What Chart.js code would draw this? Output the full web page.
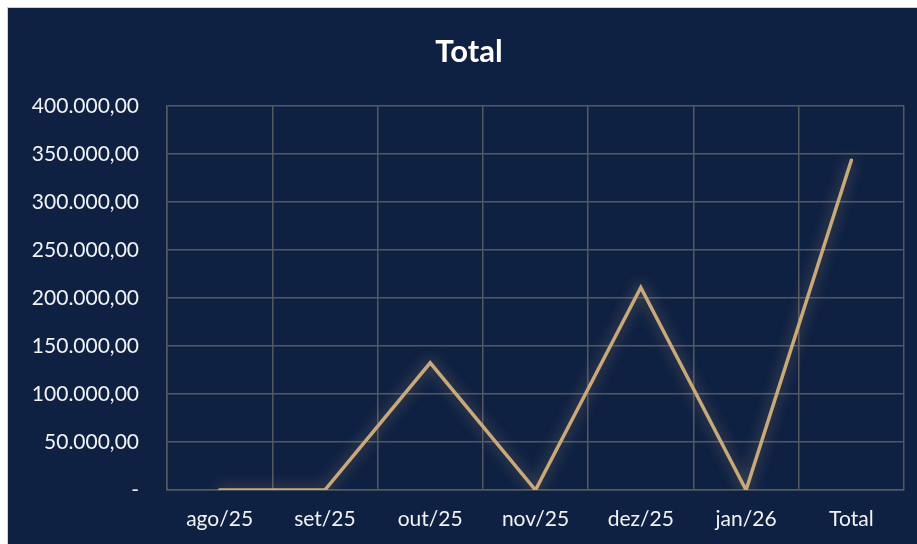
<!DOCTYPE html>
<html>
<head>
<meta charset="utf-8">
<script src="https://cdn.jsdelivr.net/npm/chart.js@4.4.1/dist/chart.umd.min.js"></script>
<style>
  html, body { margin: 0; padding: 0; background: #ffffff; }
  #frame {
    position: absolute; left: 7px; top: 7px;
    width: 910px; height: 537px;
    background: #0f2143;
    border-left: 1px solid #d0d0d0; border-top: 1px solid #d0d0d0;
  }
  #chart { display: block; }
</style>
</head>
<body>
<div id="frame"><canvas id="chart" width="910" height="537"></canvas></div>
<script>
// data
const labels = ["ago/25", "set/25", "out/25", "nov/25", "dez/25", "jan/26", "Total"];
const totals = [0, 0, 132500, 0, 211000, 0, 343500];
const yTicks = [0, 50000, 100000, 150000, 200000, 250000, 300000, 350000, 400000];
const chartTitle = "Total";

// 350000 -> "350.000,00", 0 -> "-"
function fmtBR(v) {
  if (v === 0) return "-";
  const s = Math.round(v).toString().replace(/\B(?=(\d{3})+(?!\d))/g, ".");
  return s + ",00";
}

const fontFamily = "Lato, 'Open Sans', sans-serif";
const font = { family: fontFamily, size: 21 };

// soft glow under the line
const glow = {
  id: "glow",
  beforeDatasetDraw(chart) {
    const ctx = chart.ctx;
    ctx.save();
    ctx.shadowColor = "rgba(201,169,122,0.55)";
    ctx.shadowBlur = 14;
  },
  afterDatasetDraw(chart) {
    chart.ctx.restore();
  },
};

// title sits a bit right of the canvas centre, like the original
const titleText = {
  id: "titleText",
  afterDraw(chart) {
    const ctx = chart.ctx;
    ctx.save();
    ctx.fillStyle = "#ffffff";
    ctx.font = "bold 31px " + fontFamily;
    ctx.textAlign = "center";
    ctx.textBaseline = "middle";
    ctx.fillText(chartTitle, 461, 44);
    ctx.restore();
  },
};

new Chart(document.getElementById("chart"), {
  type: "line",
  data: {
    labels,
    datasets: [{
      label: "Total",
      data: totals,
      borderColor: "#c9a97a",
      borderWidth: 3.5,
      borderCapStyle: "round",
      borderJoinStyle: "miter",
      pointRadius: 0,
      tension: 0,
    }],
  },
  options: {
    responsive: false,
    animation: false,
    layout: { padding: { left: 0, right: 14, top: 98, bottom: 0 } },
    plugins: {
      legend: { display: false },
      tooltip: { enabled: false },
      title: { display: false },
    },
    scales: {
      x: {
        offset: true,
        afterFit(axis) { axis.height = 55; },
        grid: { offset: true, color: "#55585e", lineWidth: 1.5, drawTicks: false },
        border: { color: "#55585e", width: 1.5 },
        ticks: { color: "#f2f2f2", font, padding: 17, maxRotation: 0 },
      },
      y: {
        min: 0,
        max: 400000,
        afterBuildTicks(axis) { axis.ticks = yTicks.map(v => ({ value: v })); },
        afterFit(axis) { axis.width = 159; },
        grid: { color: "#55585e", lineWidth: 1.5, drawTicks: false },
        border: { color: "#55585e", width: 1.5 },
        ticks: { color: "#f2f2f2", font, padding: 28, callback: v => fmtBR(v) },
      },
    },
  },
  plugins: [glow, titleText],
});
</script>
</body>
</html>
